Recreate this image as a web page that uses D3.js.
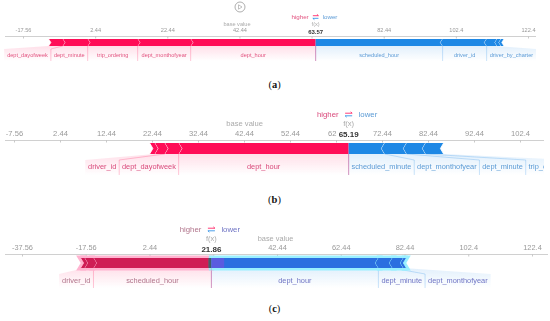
<!DOCTYPE html>
<html>
<head>
<meta charset="utf-8">
<script src="https://cdn.jsdelivr.net/npm/d3@7"></script>
<style>
  html, body { margin: 0; padding: 0; background: #fff; }
  svg { display: block; }
  text { font-family: "Liberation Sans", Arial, sans-serif; }
  .plot { filter: blur(0.45px); }
</style>
</head>
<body>
<div id="chart"></div>
<script>
// axis ticks, same spacing in every panel but different start
// a tick label that sits under the bold f(x) value is cut short or blank, as in the picture
var ticksA = [-17.56, 2.44, 22.44, 42.44, 62.44, 82.44, 102.44, 122.44]
var tickLabelsA = ['-17.56', '2.44', '22.44', '42.44', '', '82.44', '102.4', '122.4']
var ticksB = [-7.56, 2.44, 12.44, 22.44, 32.44, 42.44, 52.44, 62.44, 72.44, 82.44, 92.44, 102.44]
var tickLabelsB = ['-7.56', '2.44', '12.44', '22.44', '32.44', '42.44', '52.44', '62', '72.44', '82.44', '92.44', '102.4']
var ticksC = [-37.56, -17.56, 2.44, 22.44, 42.44, 62.44, 82.44, 102.44, 122.44]
var tickLabelsC = ['-37.56', '-17.56', '2.44', '', '42.44', '62.44', '82.44', '102.4', '122.4']

// predicted values
var outputA = 63.57
var outputB = 65.19
var outputC = 21.86

// features pushing higher, nearest to f(x) first. '' = too small to get a label
var higherNamesA = ['dept_hour', 'dept_monthofyear', 'trip_ordering', 'dept_minute', 'dept_dayofweek']
var higherValuesA = [34.65, 14.69, 13.86, 6.93, 3.88]
var lowerNamesA = ['scheduled_hour', 'driver_id', 'driver_by_charter', '', '']
var lowerValuesA = [35.2, 12.2, 2.9, 1.1, 0.8]

var higherNamesB = ['dept_hour', 'dept_dayofweek', 'driver_id', '']
var higherValuesB = [36.96, 3.04, 2.17, 1.09]
var lowerNamesB = ['scheduled_minute', 'dept_monthofyear', 'dept_minute', 'trip_ordering']
var lowerValuesB = [7.83, 4.78, 4.13, 3.91]

var higherNamesC = ['scheduled_hour', 'driver_id', '']
var higherValuesC = [37.0, 2.8, 1.25]
var lowerNamesC = ['dept_hour', 'dept_minute', 'dept_monthofyear', '']
var lowerValuesC = [52.39, 4.39, 3.45, 0.94]

var svg = d3.select('#chart').append('svg').attr('width', 550).attr('height', 321)
var defs = svg.append('defs')

function addGradient(id, color) {
    var g = defs.append('linearGradient').attr('id', id).attr('x1', 0).attr('y1', 0).attr('x2', 0).attr('y2', 1)
    g.append('stop').attr('offset', '0%').attr('stop-color', color).attr('stop-opacity', 0.13)
    g.append('stop').attr('offset', '100%').attr('stop-color', color).attr('stop-opacity', 0)
}
addGradient('fadeRed', '#ff0d57')
addGradient('fadeBlue', '#1e88e5')

var plot = svg.append('g').attr('class', 'plot')

// turns a list of effects into [start, end] runs going away from f(x)
function makeSegments(names, values, output, sign) {
    var total = output
    return values.map(function (v, i) {
        var seg = { name: names[i], from: total, to: total + sign * v, first: i === 0, last: i === values.length - 1 }
        total = seg.to
        return seg
    })
}

function drawPanel(p) {
    var g = plot.append('g')
    var x = d3.scaleLinear().domain([p.ticks[0], p.ticks[p.ticks.length - 1]]).range(p.range)

    var clipId = 'clip' + p.id
    defs.append('clipPath').attr('id', clipId).append('rect')
        .attr('x', 0).attr('y', 0).attr('width', p.right).attr('height', 321)

    // axis
    g.append('line').attr('x1', 5).attr('x2', p.right).attr('y1', p.axisY).attr('y2', p.axisY)
        .attr('stroke', '#c4c4c4').attr('stroke-width', 0.8)
    var axis = d3.axisBottom(x).tickValues(p.ticks).tickSize(2)
        .tickFormat(function (d, i) { return p.tickLabels[i] })
    var axisG = g.append('g').attr('transform', 'translate(0,' + p.axisY + ')').call(axis)
    axisG.select('.domain').remove()
    axisG.selectAll('line').attr('stroke', '#bbb').attr('stroke-width', 0.8)
    axisG.selectAll('text').attr('y', -4.5).attr('dy', 0).attr('fill', '#999')
        .attr('font-size', p.tickSize).attr('font-family', '"Liberation Sans", Arial, sans-serif')
        .attr('text-anchor', function () { return this.textContent === '62' ? 'end' : 'middle' })

    var red = makeSegments(p.higherNames, p.higherValues, p.output, -1)
    var blue = makeSegments(p.lowerNames, p.lowerValues, p.output, 1)
    var base = p.output - d3.sum(p.higherValues) + d3.sum(p.lowerValues)

    var labels = g.append('g').attr('clip-path', 'url(#' + clipId + ')')
    function textWidth(name) {
        var t = labels.append('text').attr('font-size', p.labelSize).text(name)
        var w = t.node().getComputedTextLength()
        t.remove()
        return w
    }

    // label boxes are laid out outwards from f(x), wider than the segment if they have to be
    function drawLabels(segs, sign, color, fade) {
        var edge = x(p.output)
        segs.forEach(function (s) {
            if (!s.name) return
            var near = x(s.from), far = x(s.to)
            var w = textWidth(s.name) + 2 * p.labelPad
            var boxNear = sign < 0 ? Math.min(near, edge) : Math.max(near, edge)
            var boxFar = sign < 0 ? Math.min(far, boxNear - w) : Math.max(far, boxNear + w)
            edge = boxFar
            var pts = [[near, p.barBottom], [boxNear, p.bendY], [boxNear, p.boxBottom],
                [boxFar, p.boxBottom], [boxFar, p.bendY], [far, p.barBottom]]
            labels.append('path').attr('d', d3.line()(pts) + 'Z').attr('fill', 'url(#' + fade + ')')
            labels.append('path').attr('d', d3.line()(pts.slice(0, 3))).attr('fill', 'none')
                .attr('stroke', color).attr('stroke-opacity', 0.4).attr('stroke-width', 0.6)
            labels.append('text').attr('x', (boxNear + boxFar) / 2).attr('y', p.labelY)
                .attr('text-anchor', 'middle').attr('font-size', p.labelSize).attr('fill', p[fade]).text(s.name)
        })
    }
    drawLabels(red, -1, '#ff0d57', 'fadeRed')
    drawLabels(blue, 1, '#1e88e5', 'fadeBlue')

    // bar pieces, each one a chevron pointing at f(x)
    function drawBar(segs, sign, fill, band) {
        var mid = (p.barTop + p.barBottom) / 2
        var tip = p.tip
        var shapes = segs.map(function (s) {
            var near = x(s.from), far = x(s.to)
            return [[far, p.barTop], [near, p.barTop],
                [near + (s.first ? 0 : -sign * tip), mid], [near, p.barBottom], [far, p.barBottom],
                [far - sign * tip, mid]]
        })
        if (band) {
            shapes.forEach(function (pts) {
                g.append('path').attr('d', d3.line()(pts) + 'Z').attr('fill', band)
                    .attr('stroke', band).attr('stroke-width', 5)
            })
        }
        shapes.forEach(function (pts) {
            g.append('path').attr('d', d3.line()(pts) + 'Z').attr('fill', fill)
            g.append('path').attr('d', d3.line()([pts[0], pts[5], pts[4]])).attr('fill', 'none')
                .attr('stroke', band || '#fff').attr('stroke-width', p.chevron)
        })
    }
    drawBar(red, -1, p.redFill, p.redBand)
    drawBar(blue, 1, p.blueFill, p.blueBand)

    // panel c was photographed with the hover marker on f(x)
    if (p.marker) {
        g.append('rect').attr('x', x(p.output) - 3).attr('width', 3)
            .attr('y', p.barTop).attr('height', p.barBottom - p.barTop).attr('fill', '#40606a')
        g.append('rect').attr('x', x(p.output)).attr('width', x(p.output + p.marker) - x(p.output))
            .attr('y', p.barTop).attr('height', p.barBottom - p.barTop).attr('fill', '#5a5ce0')
    }

    // f(x) and base value captions
    g.append('line').attr('x1', x(p.output)).attr('x2', x(p.output)).attr('y1', p.barBottom).attr('y2', p.boxBottom)
        .attr('stroke', '#ff0d57').attr('stroke-opacity', 0.3).attr('stroke-width', 0.6)
    g.append('text').attr('x', x(p.output)).attr('y', p.fxY).attr('text-anchor', 'middle')
        .attr('font-size', p.tickSize).attr('fill', '#aaa').text('f(x)')
    g.append('text').attr('x', x(p.output)).attr('y', p.tickY).attr('text-anchor', 'middle')
        .attr('font-size', p.valueSize).attr('font-weight', 'bold').attr('fill', '#333')
        .text(p.output.toFixed(2))
    g.append('text').attr('x', x(base)).attr('y', p.fxY).attr('text-anchor', 'middle')
        .attr('font-size', p.tickSize).attr('fill', '#aaa').text('base value')

    // higher / lower legend
    var cx = x(p.output)
    g.append('text').attr('x', cx - p.legendGap).attr('y', p.legendY).attr('text-anchor', 'end')
        .attr('font-size', p.legendSize).attr('fill', p.fadeRed).text('higher')
    g.append('text').attr('x', cx + p.legendGap).attr('y', p.legendY)
        .attr('font-size', p.legendSize).attr('fill', p.fadeBlue).text('lower')
    var a = p.legendSize * 0.45, ay = p.legendY - p.legendSize * 0.32
    g.append('path').attr('d', d3.line()([[cx - a, ay - 1.3], [cx + a, ay - 1.3], [cx + a - 1.5, ay - 2.6]]))
        .attr('fill', 'none').attr('stroke', '#ff0d57').attr('stroke-width', 0.8)
    g.append('path').attr('d', d3.line()([[cx + a, ay + 1.3], [cx - a, ay + 1.3], [cx - a + 1.5, ay + 2.6]]))
        .attr('fill', 'none').attr('stroke', '#1e88e5').attr('stroke-width', 0.8)

    // caption under the panel
    var cap = svg.append('text').attr('x', 274.5).attr('y', p.captionY).attr('text-anchor', 'middle')
        .attr('font-size', 10.5).style('font-family', '"Liberation Serif", serif').attr('fill', '#111')
    cap.append('tspan').text('(')
    cap.append('tspan').attr('font-weight', 'bold').text(p.id)
    cap.append('tspan').text(')')
}

drawPanel({
    id: 'a', ticks: ticksA, tickLabels: tickLabelsA, output: outputA,
    higherNames: higherNamesA, higherValues: higherValuesA, lowerNames: lowerNamesA, lowerValues: lowerValuesA,
    range: [23, 528], right: 536, axisY: 36.5, barTop: 39, barBottom: 46, tip: 2.2, chevron: 0.7,
    bendY: 49, boxBottom: 61, labelY: 57, labelSize: 5.6, labelPad: 3, tickSize: 5.6, valueSize: 6,
    fxY: 26, tickY: 34, legendY: 19, legendSize: 6.2, legendGap: 7,
    redFill: '#ff0d57', blueFill: '#1e88e5', fadeRed: '#e2527f', fadeBlue: '#5c9bd6', captionY: 88
})

drawPanel({
    id: 'b', ticks: ticksB, tickLabels: tickLabelsB, output: outputB,
    higherNames: higherNamesB, higherValues: higherValuesB, lowerNames: lowerNamesB, lowerValues: lowerValuesB,
    range: [14, 520], right: 544, axisY: 140.5, barTop: 143, barBottom: 154, tip: 3.2, chevron: 0.9,
    bendY: 160, boxBottom: 175, labelY: 169, labelSize: 7.4, labelPad: 2.8, tickSize: 7.6, valueSize: 8,
    fxY: 126, tickY: 137, legendY: 117, legendSize: 7.8, legendGap: 10,
    redFill: '#ff0d57', blueFill: '#1e88e5', fadeRed: '#d9487a', fadeBlue: '#5b9bd5', captionY: 203
})

drawPanel({
    id: 'c', ticks: ticksC, tickLabels: tickLabelsC, output: outputC,
    higherNames: higherNamesC, higherValues: higherValuesC, lowerNames: lowerNamesC, lowerValues: lowerValuesC,
    range: [22, 532], right: 548, axisY: 254.5, barTop: 258, barBottom: 268, tip: 3, chevron: 0.9,
    bendY: 274, boxBottom: 288, labelY: 283, labelSize: 7.4, labelPad: 3, tickSize: 7.4, valueSize: 8,
    fxY: 241, tickY: 252, legendY: 232, legendSize: 7.8, legendGap: 10, marker: 4,
    redFill: '#cf1c55', blueFill: '#2b6fe0', redBand: '#ffb3d0', blueBand: '#9af0ff',
    fadeRed: '#b0738a', fadeBlue: '#6f74c4', captionY: 312
})

// the replay button above panel a
var button = plot.append('g').attr('transform', 'translate(240,7)')
button.append('circle').attr('r', 5).attr('fill', 'none').attr('stroke', '#999').attr('stroke-width', 0.8)
button.append('path').attr('d', 'M-1.5,-2.2L2,0L-1.5,2.2Z').attr('fill', 'none').attr('stroke', '#999').attr('stroke-width', 0.6)
</script>
</body>
</html>
